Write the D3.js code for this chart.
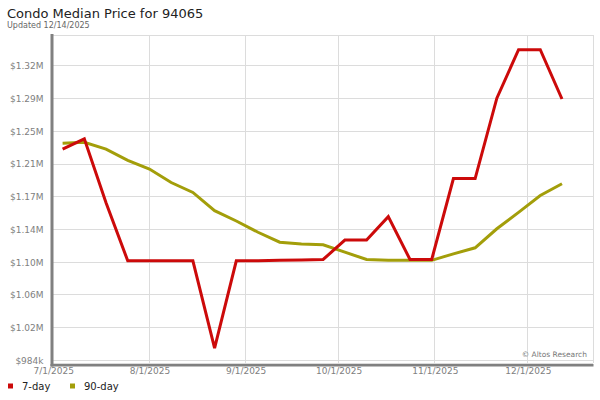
<!DOCTYPE html>
<html>
<head>
<meta charset="utf-8">
<script src="https://cdn.jsdelivr.net/npm/d3@7"></script>
<style>
  html, body { margin: 0; padding: 0; background: #fff; }
  svg { display: block; font-family: "DejaVu Sans", sans-serif; }
</style>
</head>
<body>
<svg id="chart" width="600" height="400"></svg>
<script>
// ---- Data ----
const dates = ["2025-07-04","2025-07-11","2025-07-18","2025-07-25","2025-08-01","2025-08-08",
  "2025-08-15","2025-08-22","2025-08-29","2025-09-05","2025-09-12","2025-09-19","2025-09-26",
  "2025-10-03","2025-10-10","2025-10-17","2025-10-24","2025-10-31","2025-11-07","2025-11-14",
  "2025-11-21","2025-11-28","2025-12-05","2025-12-12"];
// values in thousands of dollars
const sevenDay = [1228, 1240, 1166, 1099, 1099, 1099, 1099, 998, 1099, 1099, 1099.5, 1100, 1100.5,
  1123, 1123, 1150, 1100.5, 1100.5, 1194, 1194, 1287, 1343, 1343, 1286];
const ninetyDay = [1235, 1236, 1228, 1215, 1205, 1189.5, 1178, 1157, 1145, 1132, 1120.5, 1118.5, 1117.5,
  1109, 1100.5, 1099.5, 1099.5, 1099.5, 1107, 1114, 1136, 1155, 1174.5, 1188];
const yTicks = [984, 1021.8, 1059.6, 1097.4, 1135.2, 1173, 1210.8, 1248.6, 1286.4, 1324.2];
const yTickLabels = ["$984k", "$1.02M", "$1.06M", "$1.10M", "$1.14M", "$1.17M", "$1.21M", "$1.25M", "$1.29M", "$1.32M"];
const xTicks = ["2025-07-01","2025-08-01","2025-09-01","2025-10-01","2025-11-01","2025-12-01"];
const xTickLabels = ["7/1/2025","8/1/2025","9/1/2025","10/1/2025","11/1/2025","12/1/2025"];
const seriesNames = ["7-day", "90-day"];
const seriesColors = ["#cc0a0a", "#a39e0a"];

// ---- Layout ----
const L = 53.3, R = 593, T = 35, B = 363.3;
const svg = d3.select("#chart");
const parse = d3.utcParse("%Y-%m-%d");

const x = d3.scaleUtc().domain([parse("2025-07-01"), parse("2025-12-22")]).range([L, R]);
const y = d3.scaleLinear().domain([980.5, 1360]).range([B, T]);

// Title
svg.append("text").attr("x", 7).attr("y", 18).attr("font-size", 13).attr("fill", "#222")
  .text("Condo Median Price for 94065");
svg.append("text").attr("x", 7).attr("y", 28).attr("font-size", 8).attr("fill", "#666")
  .text("Updated 12/14/2025");

// Grid
const grid = svg.append("g").attr("stroke", "#dcdcdc").attr("stroke-width", 1).attr("shape-rendering", "crispEdges");
yTicks.forEach(v => {
  grid.append("line").attr("x1", L).attr("x2", R).attr("y1", y(v)).attr("y2", y(v));
});
xTicks.slice(1).forEach(d => {
  grid.append("line").attr("x1", x(parse(d))).attr("x2", x(parse(d))).attr("y1", T).attr("y2", B);
});
grid.append("line").attr("x1", L).attr("x2", R).attr("y1", T).attr("y2", T);
grid.append("line").attr("x1", R).attr("x2", R).attr("y1", T).attr("y2", B);
grid.append("line").attr("x1", L).attr("x2", R).attr("y1", B).attr("y2", B);

// Axis bars (thick gray)
svg.append("line").attr("x1", 52).attr("x2", 52).attr("y1", 34).attr("y2", 366.5)
  .attr("stroke", "#808080").attr("stroke-width", 3);
svg.append("line").attr("x1", 50.5).attr("x2", 593.5).attr("y1", 365.2).attr("y2", 365.2)
  .attr("stroke", "#808080").attr("stroke-width", 2.6);

// Y tick labels
const yAxis = d3.axisLeft(y).tickValues(yTicks).tickSize(0).tickPadding(0)
  .tickFormat((d, i) => yTickLabels[i]);
const gy = svg.append("g").attr("transform", `translate(43.5,0)`).call(yAxis);
gy.select(".domain").remove();
gy.selectAll("text").attr("font-family", "DejaVu Sans").attr("font-size", 9).attr("fill", "#808080");

// X tick labels
const xAxis = d3.axisBottom(x).tickValues(xTicks.map(parse)).tickSize(0).tickPadding(0)
  .tickFormat((d, i) => xTickLabels[i]);
const gx = svg.append("g").attr("transform", `translate(0,368)`).call(xAxis);
gx.select(".domain").remove();
gx.selectAll("text").attr("font-family", "DejaVu Sans").attr("font-size", 9).attr("fill", "#808080");

// Watermark
svg.append("text").attr("x", 587).attr("y", 357).attr("text-anchor", "end")
  .attr("font-size", 7.5).attr("fill", "#777").text("\u00A9 Altos Research");

// Lines
const line = d3.line().x((d, i) => x(parse(dates[i]))).y(d => y(d)).curve(d3.curveLinear);
[ninetyDay, sevenDay].forEach((s, k) => {
  const col = k === 0 ? seriesColors[1] : seriesColors[0];
  svg.append("path").datum(s).attr("d", line).attr("fill", "none")
    .attr("stroke", col).attr("stroke-width", 3).attr("stroke-linejoin", "miter");
});

// Legend
const legX = [8, 70];
seriesNames.forEach((n, i) => {
  svg.append("rect").attr("x", legX[i]).attr("y", 383.5).attr("width", 5).attr("height", 5)
    .attr("fill", seriesColors[i]);
  svg.append("text").attr("x", legX[i] + 14).attr("y", 390).attr("font-size", 10).attr("fill", "#222")
    .text(n);
});
</script>
</body>
</html>
